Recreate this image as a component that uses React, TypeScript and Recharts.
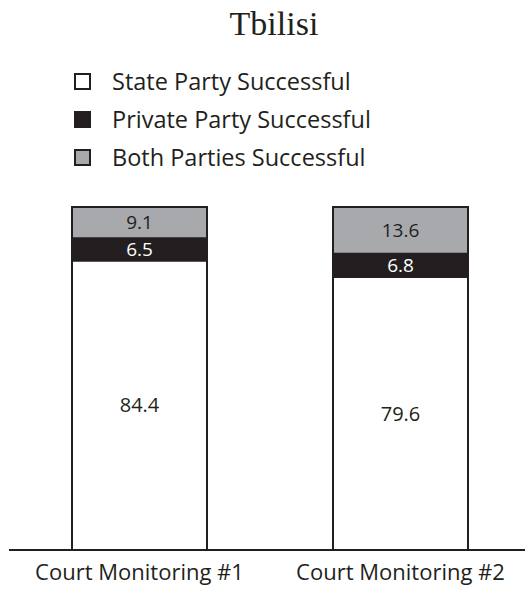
import React from 'react';
import { BarChart, Bar, XAxis, YAxis, LabelList } from 'recharts';

// Share of decisions by outcome (%), per monitoring round
const rounds = ['Court Monitoring #1', 'Court Monitoring #2'];
const stateParty = [84.4, 79.6];
const privateParty = [6.5, 6.8];
const bothParties = [9.1, 13.6];

const seriesNames = ['State Party Successful', 'Private Party Successful', 'Both Parties Successful'];

const data = rounds.map((round, i) => ({
  round,
  state: stateParty[i],
  priv: privateParty[i],
  both: bothParties[i],
}));

const INK = '#231f20';
const GREY = '#a7a9ac';
const FONT = '"Open Sans", sans-serif';

const legendItems = [
  { name: seriesNames[0], fill: '#ffffff' },
  { name: seriesNames[1], fill: INK },
  { name: seriesNames[2], fill: GREY },
];

// legend drawn as plain html so it doesn't eat into the plot area
const LegendBox = () => (
  <div style={{ position: 'absolute', top: 62, left: 74, fontFamily: FONT, fontSize: 23.5, color: INK }}>
    {legendItems.map((item) => (
      <div key={item.name} style={{ display: 'flex', alignItems: 'center', height: 38 }}>
        <div
          style={{
            width: 13,
            height: 13,
            background: item.fill,
            border: `2.5px solid ${INK}`,
            marginRight: 21,
          }}
        />
        <span>{item.name}</span>
      </div>
    ))}
  </div>
);

const RoundTick = (props: any) => {
  const { x, y, payload } = props;
  return (
    <text x={x} y={y + 22} textAnchor="middle" fontFamily={FONT} fontSize={22} fill={INK}>
      {payload.value}
    </text>
  );
};

const App: React.FC = () => {
  return (
    <div style={{ position: 'absolute', left: 0, top: 0, width: 525, height: 592, overflow: 'hidden', background: '#fff' }}>
      <div
        style={{
          position: 'absolute',
          top: 5,
          left: 0,
          width: 548,
          textAlign: 'center',
          fontFamily: '"Liberation Serif", serif',
          fontSize: 34,
          color: INK,
        }}
      >
        Tbilisi
      </div>
      <LegendBox />
      <BarChart width={531} height={592} data={data} margin={{ top: 207, right: 0, left: 9, bottom: 12 }}>
        <XAxis
          dataKey="round"
          height={30}
          tickLine={false}
          axisLine={{ stroke: INK, strokeWidth: 2 }}
          tick={<RoundTick />}
          interval={0}
        />
        <YAxis hide domain={[0, 100]} />
        <Bar dataKey="state" stackId="a" fill="#ffffff" stroke={INK} strokeWidth={2} barSize={135} isAnimationActive={false}>
          <LabelList dataKey="state" position="center" fill={INK} fontFamily={FONT} fontSize={20} />
        </Bar>
        <Bar dataKey="priv" stackId="a" fill={INK} stroke={INK} strokeWidth={2} barSize={135} isAnimationActive={false}>
          <LabelList dataKey="priv" position="center" fill="#ffffff" fontFamily={FONT} fontSize={19} />
        </Bar>
        <Bar dataKey="both" stackId="a" fill={GREY} stroke={INK} strokeWidth={2} barSize={135} isAnimationActive={false}>
          <LabelList dataKey="both" position="center" fill={INK} fontFamily={FONT} fontSize={19} />
        </Bar>
      </BarChart>
    </div>
  );
};

export default App;
